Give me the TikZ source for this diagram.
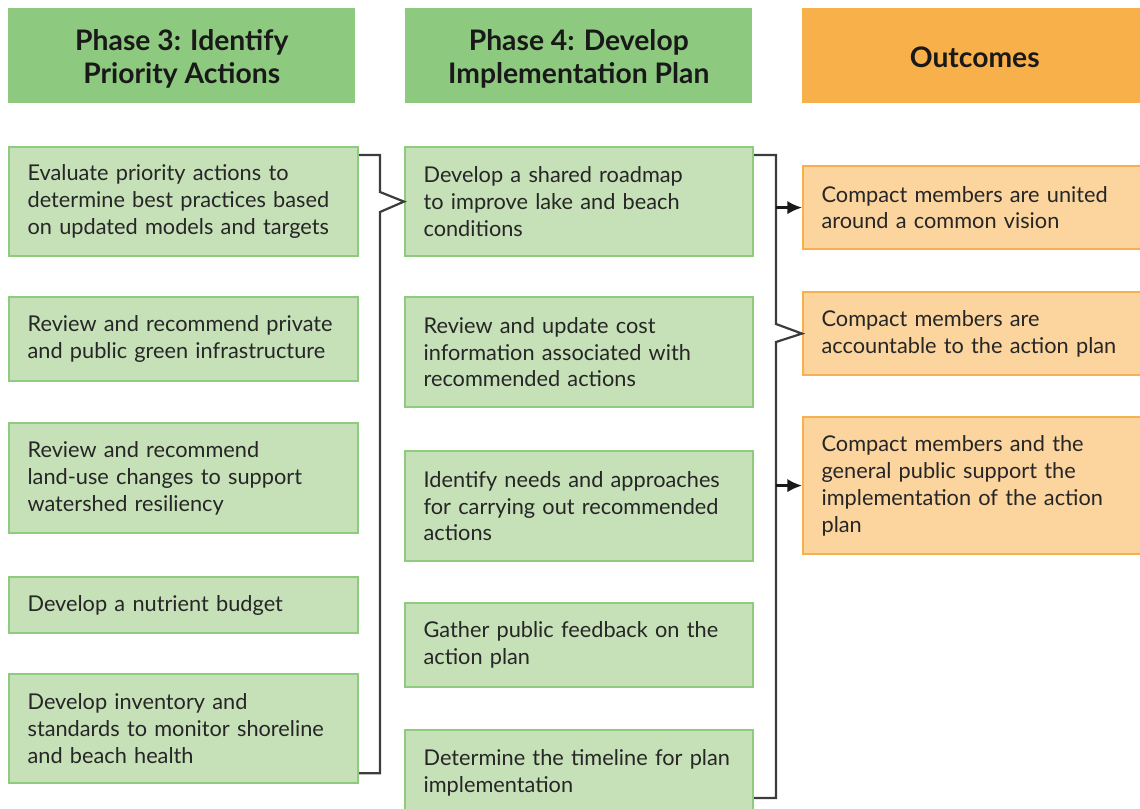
\documentclass[tikz,border=0pt]{standalone}
\usepackage{fontspec}
\setmainfont{Lato}
\usetikzlibrary{arrows.meta}
\newdimen\px \px=0.75pt
\definecolor{hgreen}{HTML}{8DC97E}
\definecolor{gfill}{HTML}{C6E0B8}
\definecolor{gline}{HTML}{8ECB7F}
\definecolor{horange}{HTML}{F8B04B}
\definecolor{ofill}{HTML}{FBD49E}
\definecolor{oline}{HTML}{F7B04B}
\definecolor{txt}{HTML}{262626}
\definecolor{brkc}{HTML}{3C3C3C}
\tikzset{
  hdr/.style={fill=hgreen, draw=none, anchor=north west, minimum height=95\px, inner sep=0pt},
  hdrtext/.style={align=center, text=black!90, inner sep=0pt,
    font=\bfseries\fontsize{21.2}{24.8}\selectfont},
  gbox/.style={fill=gfill, draw=gline, line width=2.2\px, anchor=north west, align=left,
    inner xsep=18.5\px, inner ysep=0pt, text=txt, font=\fontsize{16.3}{20.2}\selectfont},
  obox/.style={gbox, fill=ofill, draw=oline},
  brk/.style={draw=brkc, line width=1.65pt},
  arr/.style={brk, draw=black!90, -{Latex[length=11pt,width=10pt]}}
}
\begin{document}
\begin{tikzpicture}[x=0.75pt,y=-0.75pt]
\useasboundingbox (0,0) rectangle (1140,809);
\clip (0,0) rectangle (1140,809);
% headers
\node[hdr, minimum width=347\px] (h3) at (8,8) {};
\node[hdr, minimum width=347\px] (h4) at (405,8) {};
\node[hdr, fill=horange, minimum width=345\px] (h5) at (802,8) {};
\node[hdrtext] (h3t) at ([yshift=-3\px]h3.center) {Phase 3: Identify\\Priority Actions};
\node[hdrtext] (h4t) at ([yshift=-3\px]h4.center) {Phase 4: Develop\\Implementation Plan};
\node[hdrtext] (h5t) at ([yshift=-2\px]h5.center) {Outcomes};
% left column
\node[gbox, text width=312\px, minimum width=349\px, minimum height=109\px] (l1) at (8,146)
  {Evaluate priority actions to\\determine best practices based\\on updated models and targets};
\node[gbox, text width=312\px, minimum width=349\px, minimum height=84\px] (l2) at (8,296)
  {Review and recommend private\\and public green infrastructure};
\node[gbox, text width=312\px, minimum width=349\px, minimum height=110\px] (l3) at (8,422)
  {Review and recommend\\land-use changes to support\\watershed resiliency};
\node[gbox, text width=312\px, minimum width=349\px, minimum height=56\px] (l4) at (8,576)
  {Develop a nutrient budget};
\node[gbox, text width=312\px, minimum width=349\px, minimum height=109\px] (l5) at (8,673)
  {Develop inventory and\\standards to monitor shoreline\\and beach health};
% middle column
\node[gbox, text width=311\px, minimum width=348\px, minimum height=109\px] (m1) at (404,146)
  {Develop a shared roadmap\\to improve lake and beach\\conditions};
\node[gbox, text width=311\px, minimum width=348\px, minimum height=110\px] (m2) at (404,296)
  {Review and update cost\\information associated with\\recommended actions};
\node[gbox, text width=311\px, minimum width=348\px, minimum height=110\px] (m3) at (404,450)
  {Identify needs and approaches\\for carrying out recommended\\actions};
\node[gbox, text width=311\px, minimum width=348\px, minimum height=84\px] (m4) at (404,602)
  {Gather public feedback on the\\action plan};
\node[gbox, text width=311\px, minimum width=348\px, minimum height=85\px] (m5) at (404,729)
  {Determine the timeline for plan\\implementation};
% right column
\node[obox, text width=330\px, minimum width=350\px, minimum height=83\px] (o1) at (802,165)
  {Compact members are united\\around a common vision};
\node[obox, text width=330\px, minimum width=350\px, minimum height=83\px] (o2) at (802,291)
  {Compact members are\\accountable to the action plan};
\node[obox, text width=330\px, minimum width=350\px, minimum height=137\px] (o3) at (802,416)
  {Compact members and the\\general public support the\\implementation of the action\\plan};
% junction coordinates
\coordinate (j1) at (380,0);
\coordinate (j2) at (776,0);
% bracket 1
\draw[brk] ([yshift=-9\px]l1.north east) -| (380,192) -- (m1.west) -- (380,212)
  |- ([yshift=11\px]l5.south east);
% bracket 2
\draw[brk] ([yshift=-9\px]m1.north east) -| (776,324) -- (o2.west) -- (776,342)
  |- ([yshift=-69\px]m5.north east);
% arrows
\draw[arr] (o1.west -| j2) -- (o1.west);
\draw[arr] (o3.west -| j2) -- (o3.west);
\end{tikzpicture}
\end{document}
